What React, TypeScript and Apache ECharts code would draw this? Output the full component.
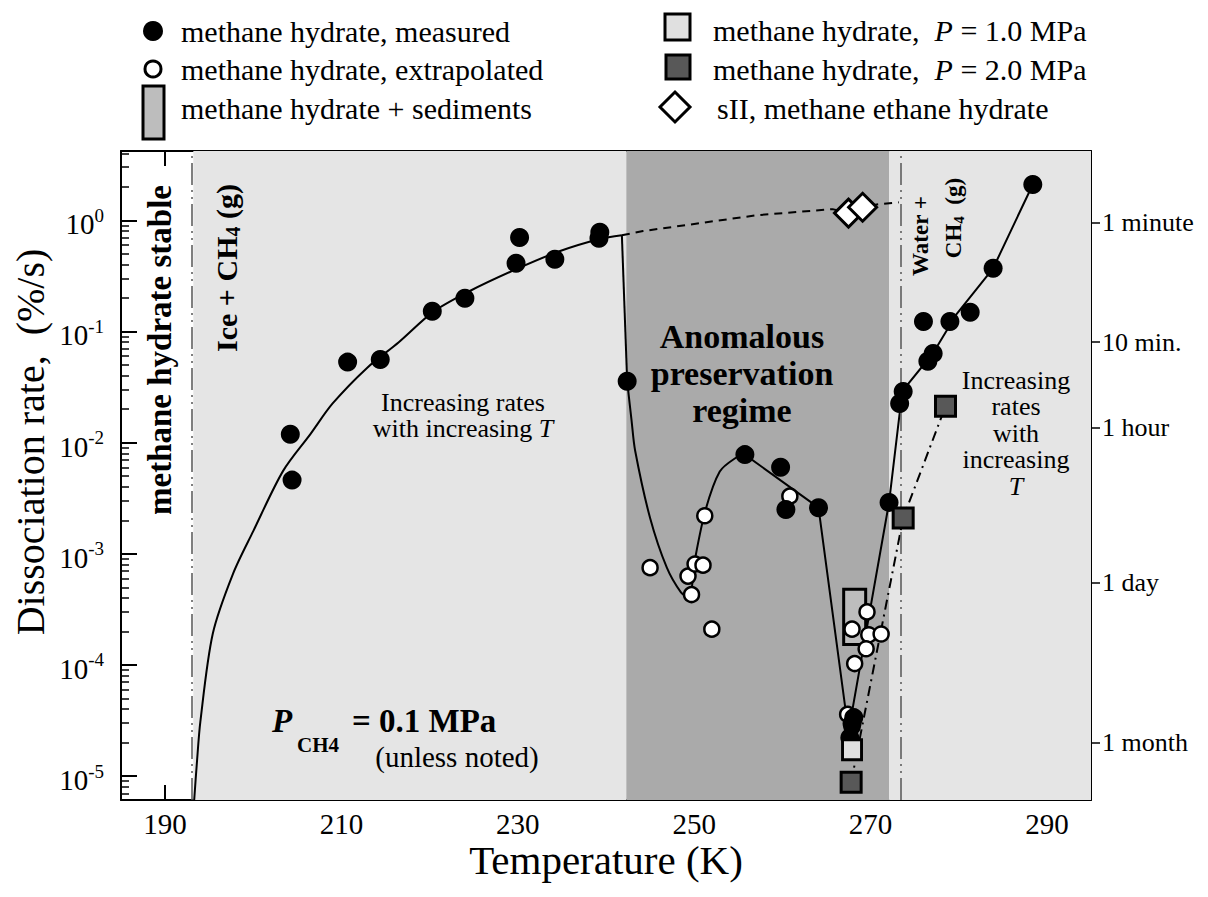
import React, { useEffect, useRef } from 'react';
import * as echarts from 'echarts';

const SERIF = 'Liberation Serif';

// axis ranges
const X_MIN = 185;
const X_MAX = 295;
const Y_MIN = 6.1e-6;
const Y_MAX = 4.2;

// ticks
const xMajorTicks = [190, 210, 230, 250, 270, 290];
const xMinorTicks = [185, 190, 195, 200, 205, 210, 215, 220, 225, 230, 235, 240, 245, 250, 255, 260, 265, 270, 275, 280, 285, 290, 295];
const yDecades = [1e-5, 1e-4, 1e-3, 1e-2, 1e-1, 1];
const yMinorMultipliers = [2, 3, 4, 5, 6, 7, 8, 9];
const timeValues = [0.95, 0.08, 0.0137, 5.5e-4, 2.0e-5];
const timeLabels = ['1 minute', '10 min.', '1 hour', '1 day', '1 month'];

// regions (K)
const stableBoundary = 193.0;
const meltBoundary = 273.4;
const ice1Band = [193.2, 242.3];
const anomalousBand = [242.3, 272.1];
const waterBand = [272.1, 295];

// data: [T (K), rate (%/s)]
const measured = [
  [204.2, 0.0119], [204.4, 0.0046], [210.7, 0.053], [214.4, 0.056], [220.3, 0.152],
  [224.0, 0.199], [229.8, 0.41], [230.2, 0.70], [234.2, 0.446], [239.2, 0.69],
  [239.3, 0.78], [242.4, 0.0356], [255.75, 0.0078], [259.8, 0.0060], [260.4, 0.0025],
  [264.1, 0.0026], [268.1, 3.36e-5], [267.9, 2.97e-5], [267.65, 2.22e-5], [272.1, 0.0029],
  [273.3, 0.0225], [273.7, 0.0289], [276.5, 0.054], [277.1, 0.0635], [276.0, 0.123],
  [279.0, 0.123], [281.3, 0.149], [283.9, 0.37], [288.4, 2.1],
];
const extrapolated = [
  [245.0, 7.5e-4], [249.3, 6.3e-4], [249.7, 4.3e-4], [250.1, 8.1e-4], [251.0, 7.9e-4],
  [251.2, 0.0022], [252.0, 2.1e-4], [260.85, 0.0033], [269.6, 3.0e-4], [267.9, 2.1e-4],
  [269.8, 1.87e-4], [271.2, 1.9e-4], [269.5, 1.4e-4], [268.2, 1.03e-4], [267.4, 3.6e-5],
  [267.9, 2.8e-5],
];
// [T, low rate, high rate]
const sediments = [[268.2, 1.53e-4, 4.8e-4]];
const p1MPa = [[267.9, 1.73e-5]];
const p2MPa = [[267.8, 8.8e-6], [273.7, 0.0021], [278.5, 0.0212]];
const sII = [[267.5, 1.16], [269.1, 1.31]];

// fitted curves
const lowTCurve = [
  [193.3, 6.1e-6], [193.6, 1.3e-5], [194.0, 3.1e-5], [195.4, 1.9e-4], [197.7, 6.6e-4],
  [200.0, 1.6e-3], [203.4, 5.6e-3], [206.5, 0.012], [209.0, 0.0225], [212.9, 0.047],
  [216.5, 0.08], [220.4, 0.15], [224.5, 0.23], [229.7, 0.36], [234.8, 0.53],
  [239.3, 0.68], [241.8, 0.733],
];
const dropLine = [[241.8, 0.733], [242.4, 0.0356]];
const anomalousCurve = [
  [242.4, 0.0356], [242.9, 0.0158], [243.3, 8.5e-3], [245.0, 2.1e-3], [246.9, 7.5e-4],
  [248.5, 4.5e-4], [249.4, 4.0e-4], [250.1, 9.0e-4], [251.3, 2.5e-3], [252.9, 5.5e-3],
  [254.6, 7.2e-3], [255.75, 0.0078],
];
const highTLine = [
  [255.75, 0.0078], [264.1, 0.0026], [267.5, 2.5e-5], [272.1, 0.0029], [273.6, 0.029],
  [277.1, 0.064], [279.8, 0.145], [283.9, 0.37], [288.4, 2.1],
];
const sIICurve = [
  [241.8, 0.733], [244.2, 0.80], [257.1, 1.11], [265.7, 1.26], [267.5, 1.16],
  [269.1, 1.31], [270.7, 1.39], [273.2, 1.45],
];

const yMinorTicks: number[] = [];
for (const d of [1e-6, 1e-5, 1e-4, 1e-3, 1e-2, 1e-1, 1]) {
  for (const m of yMinorMultipliers) {
    const v = m * d;
    if (v > Y_MIN && v < Y_MAX) yMinorTicks.push(v);
  }
}

function timeLabelFor(v: number): string {
  let best = 0;
  let bestD = Infinity;
  for (let i = 0; i < timeValues.length; i++) {
    const d = Math.abs(Math.log10(v) - Math.log10(timeValues[i]));
    if (d < bestD) { bestD = d; best = i; }
  }
  return timeLabels[best];
}

const BLACK = '#000';
const LEGEND_FS = 30;

function buildOption(): any {
  const axisLineStyle = { color: BLACK, width: 2 };
  const logY = (extra: any) => ({
    type: 'log', logBase: 10, min: Y_MIN, max: Y_MAX, splitLine: { show: false },
    ...extra,
  });
  const valX = (extra: any) => ({
    type: 'value', min: X_MIN, max: X_MAX, splitLine: { show: false }, ...extra,
  });
  const lineSeries = (data: number[][], extra: any) => ({
    type: 'line', data, showSymbol: false, symbol: 'none', xAxisIndex: 0, yAxisIndex: 0,
    lineStyle: { color: BLACK, width: 2 }, silent: true, z: 3, ...extra,
  });
  const legendText = (x: number, y: number, text: string) => ({
    type: 'text', x, y, z: 100,
    style: {
      text, fontSize: LEGEND_FS, fontFamily: SERIF, fill: BLACK, align: 'left', verticalAlign: 'middle',
      rich: { i: { fontSize: LEGEND_FS, fontFamily: SERIF, fontStyle: 'italic', fill: BLACK } },
    },
  });

  return {
    animation: false,
    backgroundColor: '#fff',
    textStyle: { fontFamily: SERIF },
    grid: { left: 121, top: 151, width: 970, height: 649, containLabel: false, outerBoundsMode: 'none' },
    xAxis: [
      valX({
        position: 'bottom',
        axisLine: { show: true, onZero: false, lineStyle: axisLineStyle },
        axisTick: { show: true, inside: true, length: 15, customValues: xMajorTicks, lineStyle: { color: BLACK, width: 2 } },
        axisLabel: { show: true, customValues: xMajorTicks, fontSize: 29, fontFamily: SERIF, color: BLACK, margin: 9 },
        name: 'Temperature (K)', nameLocation: 'middle', nameGap: 39, nameMoveOverlap: false,
        nameTextStyle: { fontSize: 41, fontFamily: SERIF, color: BLACK },
      }),
      valX({
        position: 'bottom',
        axisLine: { show: false },
        axisTick: { show: true, inside: true, length: 8, customValues: xMinorTicks, lineStyle: { color: BLACK, width: 2 } },
        axisLabel: { show: false },
      }),
      valX({
        position: 'top',
        axisLine: { show: true, onZero: false, lineStyle: axisLineStyle },
        axisTick: { show: true, inside: true, length: 15, customValues: xMajorTicks, lineStyle: { color: BLACK, width: 2 } },
        axisLabel: { show: false },
      }),
      valX({
        position: 'top',
        axisLine: { show: false },
        axisTick: { show: true, inside: true, length: 8, customValues: xMinorTicks, lineStyle: { color: BLACK, width: 2 } },
        axisLabel: { show: false },
      }),
    ],
    yAxis: [
      logY({
        position: 'left',
        axisLine: { show: true, onZero: false, lineStyle: axisLineStyle },
        axisTick: { show: true, inside: true, length: 16, customValues: yDecades, lineStyle: { color: BLACK, width: 2 } },
        axisLabel: {
          show: true, customValues: yDecades, margin: 17,
          formatter: (v: number) => `{b|10}{s|${Math.round(Math.log10(v))}}`,
          rich: {
            b: { fontSize: 29, fontFamily: SERIF, color: BLACK, padding: [8, 0, 0, 0] },
            s: { fontSize: 19, fontFamily: SERIF, color: BLACK, padding: [0, 0, 10, 0] },
          },
        },
      }),
      logY({
        position: 'left',
        axisLine: { show: false },
        axisTick: { show: true, inside: true, length: 8, customValues: yMinorTicks, lineStyle: { color: BLACK, width: 1.5 } },
        axisLabel: { show: false },
      }),
      logY({
        position: 'right',
        axisLine: { show: true, onZero: false, lineStyle: axisLineStyle },
        axisTick: { show: true, inside: true, length: 18, customValues: timeValues, lineStyle: { color: BLACK, width: 1.5 } },
        axisLabel: {
          show: true, customValues: timeValues, margin: 11,
          formatter: (v: number) => timeLabelFor(v),
          fontSize: 26, fontFamily: SERIF, color: BLACK,
        },
      }),
      logY({
        position: 'right',
        axisLine: { show: false },
        axisTick: { show: true, inside: false, length: 9, customValues: timeValues, lineStyle: { color: BLACK, width: 1.5 } },
        axisLabel: { show: false },
      }),
    ],
    series: [
      {
        type: 'line', name: 'bands', data: [[X_MIN, 1e-3]], showSymbol: false, symbol: 'none',
        lineStyle: { opacity: 0 }, silent: true, z: 0, xAxisIndex: 0, yAxisIndex: 0,
        markArea: {
          silent: true,
          label: { show: false },
          data: [
            [{ xAxis: ice1Band[0], itemStyle: { color: '#e5e5e5' } }, { xAxis: ice1Band[1] }],
            [{ xAxis: anomalousBand[0], itemStyle: { color: '#aaaaaa' } }, { xAxis: anomalousBand[1] }],
            [{ xAxis: waterBand[0], itemStyle: { color: '#e5e5e5' } }, { xAxis: waterBand[1] }],
          ],
        },
      },
      {
        type: 'line', name: 'boundaries', data: [[X_MIN, 1e-3]], showSymbol: false, symbol: 'none',
        lineStyle: { opacity: 0 }, silent: true, z: 1, xAxisIndex: 0, yAxisIndex: 0,
        markLine: {
          silent: true, symbol: ['none', 'none'], label: { show: false },
          lineStyle: { color: '#555', width: 1.5, type: [22, 5, 2, 5, 2, 5] },
          data: [{ xAxis: stableBoundary }, { xAxis: meltBoundary }],
        },
      },
      lineSeries(lowTCurve, { smooth: 0.3 }),
      lineSeries(dropLine, {}),
      lineSeries(anomalousCurve, { smooth: 0.3 }),
      lineSeries(highTLine, {}),
      lineSeries(sIICurve, { lineStyle: { color: BLACK, width: 2, type: [8, 6] } }),
      lineSeries(p2MPa, { lineStyle: { color: BLACK, width: 2, type: [10, 5, 2, 5] } }),
      {
        type: 'custom', name: 'methane hydrate + sediments', xAxisIndex: 0, yAxisIndex: 0, z: 4,
        data: sediments, encode: { x: 0, y: [1, 2] },
        itemStyle: { color: '#bdbdbd', opacity: 1 },
        renderItem: (params: any, api: any) => {
          const hi = api.coord([api.value(0), api.value(2)]);
          const lo = api.coord([api.value(0), api.value(1)]);
          return {
            type: 'rect',
            shape: { x: hi[0] - 11, y: hi[1], width: 22, height: lo[1] - hi[1] },
            style: { fill: '#bdbdbd', stroke: BLACK, lineWidth: 3, opacity: 1 },
          };
        },
      },
      {
        type: 'scatter', name: 'methane hydrate, extrapolated', data: extrapolated, z: 5,
        symbol: 'circle', symbolSize: 15,
        itemStyle: { color: '#fff', borderColor: BLACK, borderWidth: 2.5, opacity: 1 },
      },
      {
        type: 'scatter', name: 'methane hydrate, measured', data: measured, z: 6,
        symbol: 'circle', symbolSize: 19, itemStyle: { color: BLACK, opacity: 1 },
      },
      {
        type: 'scatter', name: 'P = 1.0 MPa', data: p1MPa, z: 7,
        symbol: 'rect', symbolSize: [19, 20],
        itemStyle: { color: '#e0e0e0', borderColor: BLACK, borderWidth: 3, opacity: 1 },
      },
      {
        type: 'scatter', name: 'P = 2.0 MPa', data: p2MPa, z: 7,
        symbol: 'rect', symbolSize: 20,
        itemStyle: { color: '#585858', borderColor: BLACK, borderWidth: 3, opacity: 1 },
      },
      {
        type: 'scatter', name: 'sII', data: sII, z: 8,
        symbol: 'diamond', symbolSize: [28, 28],
        itemStyle: { color: '#fff', borderColor: BLACK, borderWidth: 3, opacity: 1 },
      },
    ],
    graphic: [
      // axis title (y)
      { type: 'text', x: 30, y: 442, rotation: Math.PI / 2, z: 100,
        style: { text: 'Dissociation rate,  (%/s)', fontSize: 40, fontFamily: SERIF, fill: BLACK, align: 'center', verticalAlign: 'middle' } },
      // region labels
      { type: 'text', x: 160, y: 350, rotation: Math.PI / 2, z: 100,
        style: { text: 'methane hydrate stable', fontSize: 33, fontWeight: 'bold', fontFamily: SERIF, fill: BLACK, align: 'center', verticalAlign: 'middle' } },
      { type: 'text', x: 226, y: 268, rotation: Math.PI / 2, z: 100,
        style: {
          text: 'Ice + CH{s|4} (g)', fontSize: 30, fontWeight: 'bold', fontFamily: SERIF, fill: BLACK, align: 'center', verticalAlign: 'middle',
          rich: { s: { fontSize: 20, fontWeight: 'bold', fontFamily: SERIF, fill: BLACK, padding: [14, 0, 0, 0] } },
        } },
      { type: 'text', x: 920, y: 236, rotation: Math.PI / 2, z: 100,
        style: { text: 'Water +', fontSize: 23, fontWeight: 'bold', fontFamily: SERIF, fill: BLACK, align: 'center', verticalAlign: 'middle' } },
      { type: 'text', x: 953, y: 218, rotation: Math.PI / 2, z: 100,
        style: {
          text: 'CH{s|4}  (g)', fontSize: 23, fontWeight: 'bold', fontFamily: SERIF, fill: BLACK, align: 'center', verticalAlign: 'middle',
          rich: { s: { fontSize: 15, fontWeight: 'bold', fontFamily: SERIF, fill: BLACK, padding: [12, 0, 0, 0] } },
        } },
      { type: 'text', x: 463, y: 415, z: 100,
        style: {
          text: 'Increasing rates\nwith increasing {i|T}', fontSize: 26, lineHeight: 26, fontFamily: SERIF, fill: BLACK, align: 'center', verticalAlign: 'middle',
          rich: { i: { fontSize: 26, lineHeight: 26, fontFamily: SERIF, fontStyle: 'italic', fill: BLACK } },
        } },
      { type: 'text', x: 742, y: 373, z: 100,
        style: { text: 'Anomalous\npreservation\nregime', fontSize: 34, lineHeight: 37, fontWeight: 'bold', fontFamily: SERIF, fill: BLACK, align: 'center', verticalAlign: 'middle' } },
      { type: 'text', x: 1016, y: 433, z: 100,
        style: {
          text: 'Increasing\nrates\nwith\nincreasing\n{i|T}', fontSize: 26, lineHeight: 26.5, fontFamily: SERIF, fill: BLACK, align: 'center', verticalAlign: 'middle',
          rich: { i: { fontSize: 26, lineHeight: 26.5, fontFamily: SERIF, fontStyle: 'italic', fill: BLACK } },
        } },
      // pressure note
      { type: 'text', x: 272, y: 721, z: 100,
        style: { text: 'P', fontSize: 33, fontWeight: 'bold', fontStyle: 'italic', fontFamily: SERIF, fill: BLACK, align: 'left', verticalAlign: 'middle' } },
      { type: 'text', x: 297, y: 745, z: 100,
        style: { text: 'CH4', fontSize: 21, fontWeight: 'bold', fontFamily: SERIF, fill: BLACK, align: 'left', verticalAlign: 'middle' } },
      { type: 'text', x: 352, y: 721, z: 100,
        style: { text: '= 0.1 MPa', fontSize: 33, fontWeight: 'bold', fontFamily: SERIF, fill: BLACK, align: 'left', verticalAlign: 'middle' } },
      { type: 'text', x: 457, y: 757, z: 100,
        style: { text: '(unless noted)', fontSize: 29, fontFamily: SERIF, fill: BLACK, align: 'center', verticalAlign: 'middle' } },
      // legend, left column
      { type: 'circle', shape: { cx: 153, cy: 31, r: 10 }, style: { fill: BLACK }, z: 100 },
      legendText(181, 31, 'methane hydrate, measured'),
      { type: 'circle', shape: { cx: 153, cy: 69, r: 8 }, style: { fill: '#fff', stroke: BLACK, lineWidth: 3 }, z: 100 },
      legendText(181, 69, 'methane hydrate, extrapolated'),
      { type: 'rect', shape: { x: 143, y: 86, width: 21, height: 53 }, style: { fill: '#bdbdbd', stroke: BLACK, lineWidth: 3 }, z: 100 },
      legendText(181, 108, 'methane hydrate + sediments'),
      // legend, right column
      { type: 'rect', shape: { x: 665, y: 14, width: 25, height: 26 }, style: { fill: '#e0e0e0', stroke: BLACK, lineWidth: 3 }, z: 100 },
      legendText(713, 30, 'methane hydrate,  {i|P} = 1.0 MPa'),
      { type: 'rect', shape: { x: 666, y: 55, width: 24, height: 24 }, style: { fill: '#585858', stroke: BLACK, lineWidth: 3 }, z: 100 },
      legendText(713, 69, 'methane hydrate,  {i|P} = 2.0 MPa'),
      { type: 'polygon', shape: { points: [[675, 92], [690, 107], [675, 122], [660, 107]] }, style: { fill: '#fff', stroke: BLACK, lineWidth: 3 }, z: 100 },
      legendText(717, 108, 'sII, methane ethane hydrate'),
    ],
  };
}

export default function App() {
  const ref = useRef<HTMLDivElement>(null);
  useEffect(() => {
    if (!ref.current) return;
    const chart = echarts.init(ref.current, undefined, { renderer: 'svg' });
    chart.setOption(buildOption());
    return () => chart.dispose();
  }, []);
  return (
    <div
      ref={ref}
      style={{ position: 'fixed', left: 0, top: 0, width: 1208, height: 897, background: '#fff' }}
    />
  );
}
